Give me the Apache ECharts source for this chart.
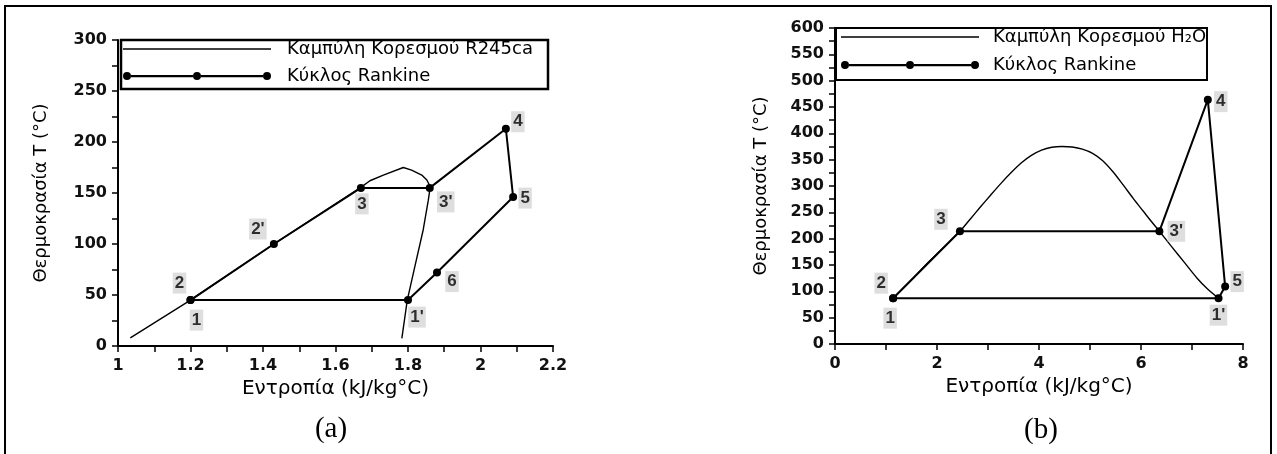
<!DOCTYPE html>
<html>
<head>
<meta charset="utf-8">
<script src="https://cdn.jsdelivr.net/npm/echarts@6/dist/echarts.min.js"></script>
<style>
  html, body { margin: 0; padding: 0; background: #fff; }
  #chart { width: 1277px; height: 454px; }
</style>
</head>
<body>
<div id="chart"></div>
<script>
// ---- (a) R245ca ----
var satNameA = 'Καμπύλη Κορεσμού R245ca';
var satSA = [1.034, 1.20, 1.43, 1.668, 1.695, 1.732, 1.787, 1.810, 1.838, 1.852, 1.859, 1.861, 1.856, 1.842, 1.819, 1.798, 1.783];
var satTA = [8, 45, 100, 155, 162, 167.6, 175, 172.5, 167.6, 162.7, 157.8, 155, 143, 114, 78, 45, 7.5];
var statesA = ['1', '2', "2'", '3', "3'", '4', '5', '6', "1'"];
var stateSA = [1.20, 1.20, 1.43, 1.67, 1.86, 2.07, 2.09, 1.88, 1.80];
var stateTA = [45, 45, 100, 155, 155, 213, 146, 72, 45];
var cycleOrderA = ['1', "2'", '3', "3'", '4', '5', '6', "1'", '1'];

// ---- (b) H2O ----
var satNameB = 'Καμπύλη Κορεσμού H₂O';
var satSB = [1.14, 1.50, 1.85, 2.20, 2.45, 2.65, 2.85, 3.05, 3.25, 3.45, 3.65, 3.85, 4.05, 4.25, 4.45,
             4.65, 4.85, 5.05, 5.25, 5.45, 5.65, 5.85, 6.05, 6.20, 6.36, 6.60, 6.85, 7.10, 7.30, 7.52];
var satTB = [87, 122, 157, 190, 214, 237, 260, 282.5, 304.5, 325, 343.5, 358, 368, 373.5, 375,
             374, 370, 362, 348, 327, 302, 276, 251.5, 233, 214, 185, 155, 125, 105, 87];
var statesB = ['1', '2', '3', "3'", '4', '5', "1'"];
var stateSB = [1.14, 1.14, 2.45, 6.36, 7.31, 7.65, 7.52];
var stateTB = [87, 87, 214, 214, 464, 109, 87];
var cycleOrderB = ['1', '3', "3'", '4', '5', "1'", '1'];

var cycleName = 'Κύκλος Rankine';
var xTitle = 'Εντροπία (kJ/kg°C)';
var yTitle = 'Θερμοκρασία T (°C)';

// label offsets (px) around each state point
var offA = { '1': [6, 20], '2': [-11, -17], "2'": [-16, -15], '3': [1, 16], "3'": [16, 14], '4': [12, -7], '5': [12, 1], '6': [15, 9], "1'": [9, 17] };
var offB = { '1': [-3, 20], '2': [-12, -15], '3': [-19, -12], "3'": [17, 0], '4': [13, 2], '5': [12, -5], "1'": [0, 17] };

var FONT = 'DejaVu Sans';

function zip(xs, ys) {
    var res = [];
    for (var i = 0; i < xs.length; i++) res.push([xs[i], ys[i]]);
    return res;
}
function cyclePath(order, names, xs, ys) {
    return order.map(function (n) {
        var i = names.indexOf(n);
        return [xs[i], ys[i]];
    });
}
function labelData(names, xs, ys, off) {
    return names.map(function (n, i) {
        return { name: n, value: [xs[i], ys[i]], label: { offset: off[n] } };
    });
}

function xAxisOf(idx, min, max, step) {
    return {
        gridIndex: idx, type: 'value', min: min, max: max, interval: step,
        name: xTitle, nameLocation: 'middle', nameGap: 33,
        nameTextStyle: { fontFamily: FONT, fontSize: 20, color: '#000' },
        axisLine: { onZero: false, lineStyle: { color: '#000', width: 2 } },
        axisTick: { length: 6, lineStyle: { color: '#000', width: 1.5 } },
        minorTick: { show: true, splitNumber: 2, length: 6, lineStyle: { color: '#000', width: 1.5 } },
        axisLabel: { fontFamily: FONT, fontSize: 16, fontWeight: 'bold', color: '#111', margin: 12 },
        splitLine: { show: false }
    };
}
function yAxisOf(idx, max, gap) {
    return {
        gridIndex: idx, type: 'value', min: 0, max: max, interval: 50,
        name: yTitle, nameLocation: 'middle', nameGap: gap,
        nameTextStyle: { fontFamily: FONT, fontSize: 18, color: '#000' },
        axisLine: { onZero: false, lineStyle: { color: '#000', width: 2 } },
        axisTick: { length: 6, lineStyle: { color: '#000', width: 1.5 } },
        minorTick: { show: true, splitNumber: 2, length: 6, lineStyle: { color: '#000', width: 1.5 } },
        axisLabel: { fontFamily: FONT, fontSize: 16, fontWeight: 'bold', color: '#111', margin: 11 },
        splitLine: { show: false }
    };
}

function thinIcon(w) {
    return 'path://M-4,3.3h' + (w + 8) + 'v1.4h-' + (w + 8) + 'z';
}
function cycleIcon(w) {
    var h = w / 2;
    var p = 'path://';
    [0, h, w].forEach(function (c) {
        p += 'M' + (c - 4) + ',4a4,4 0 1,0 8,0a4,4 0 1,0 -8,0z';
    });
    p += 'M4,3h' + (h - 8) + 'v2.2h-' + (h - 8) + 'z';
    p += 'M' + (h + 4) + ',3h' + (h - 8) + 'v2.2h-' + (h - 8) + 'z';
    return p;
}

var labelStyle = {
    show: true, position: 'inside', formatter: '{b}',
    fontFamily: 'Liberation Sans', fontWeight: 'bold', fontSize: 17, color: '#000',
    backgroundColor: '#d6d6d6', padding: [2, 2, 0, 2], lineHeight: 19
};

var option = {
    animation: false,
    backgroundColor: '#fff',
    grid: [
        { left: 118, top: 40, width: 435, height: 306 },
        { left: 835, top: 28, width: 408, height: 316 }
    ],
    xAxis: [xAxisOf(0, 1, 2.2, 0.2), xAxisOf(1, 0, 8, 2)],
    yAxis: [yAxisOf(0, 300, 68), yAxisOf(1, 600, 65)],
    legend: [
        {
            left: 123, top: 39, orient: 'vertical', padding: 0,
            itemWidth: 148, itemHeight: 8, itemGap: 7,
            textStyle: { fontFamily: FONT, fontSize: 18, color: '#000', lineHeight: 20, padding: [0, 0, 0, 11] },
            data: [{ name: satNameA, icon: thinIcon(140) }, { name: cycleName, icon: cycleIcon(140) }]
        },
        {
            left: 841, top: 27, orient: 'vertical', padding: 0,
            itemWidth: 138, itemHeight: 8, itemGap: 8,
            textStyle: { fontFamily: FONT, fontSize: 18, color: '#000', lineHeight: 20, padding: [0, 0, 0, 9] },
            data: [{ name: satNameB, icon: thinIcon(130) }, { name: cycleName, icon: cycleIcon(130) }]
        }
    ],
    graphic: [
        { type: 'rect', shape: { x: 5, y: 6, width: 1266, height: 470 }, style: { fill: 'none', stroke: '#000', lineWidth: 2 }, silent: true },
        { type: 'rect', shape: { x: 121, y: 40, width: 427, height: 49 }, style: { fill: 'none', stroke: '#000', lineWidth: 2.5 }, silent: true },
        { type: 'rect', shape: { x: 836, y: 28, width: 371, height: 52 }, style: { fill: 'none', stroke: '#000', lineWidth: 2 }, silent: true },
        { type: 'text', x: 331, y: 429, style: { text: '(a)', font: '29px "Liberation Serif"', fill: '#000', textAlign: 'center', textVerticalAlign: 'middle' } },
        { type: 'text', x: 1041, y: 430, style: { text: '(b)', font: '29px "Liberation Serif"', fill: '#000', textAlign: 'center', textVerticalAlign: 'middle' } }
    ],
    series: [
        {
            name: satNameA, type: 'line', xAxisIndex: 0, yAxisIndex: 0,
            data: zip(satSA, satTA), showSymbol: false, symbol: 'none',
            lineStyle: { color: '#000', width: 1.4 }, itemStyle: { color: '#000' }, z: 2
        },
        {
            name: cycleName, type: 'line', xAxisIndex: 0, yAxisIndex: 0,
            data: cyclePath(cycleOrderA, statesA, stateSA, stateTA),
            symbol: 'circle', symbolSize: 8,
            lineStyle: { color: '#000', width: 2 }, itemStyle: { color: '#000' }, z: 3
        },
        {
            name: 'labelsA', type: 'scatter', xAxisIndex: 0, yAxisIndex: 0,
            data: labelData(statesA, stateSA, stateTA, offA),
            symbolSize: 1, itemStyle: { color: 'transparent' }, label: labelStyle, z: 5
        },
        {
            name: satNameB, type: 'line', xAxisIndex: 1, yAxisIndex: 1,
            data: zip(satSB, satTB), showSymbol: false, symbol: 'none', smooth: 0.3,
            lineStyle: { color: '#000', width: 1.4 }, itemStyle: { color: '#000' }, z: 2
        },
        {
            name: cycleName, type: 'line', xAxisIndex: 1, yAxisIndex: 1,
            data: cyclePath(cycleOrderB, statesB, stateSB, stateTB),
            symbol: 'circle', symbolSize: 8,
            lineStyle: { color: '#000', width: 2 }, itemStyle: { color: '#000' }, z: 3
        },
        {
            name: 'labelsB', type: 'scatter', xAxisIndex: 1, yAxisIndex: 1,
            data: labelData(statesB, stateSB, stateTB, offB),
            symbolSize: 1, itemStyle: { color: 'transparent' }, label: labelStyle, z: 5
        }
    ]
};

var myChart = echarts.init(document.getElementById('chart'));
myChart.setOption(option);
window.addEventListener('resize', function () {
    myChart.resize();
});
</script>
</body>
</html>
